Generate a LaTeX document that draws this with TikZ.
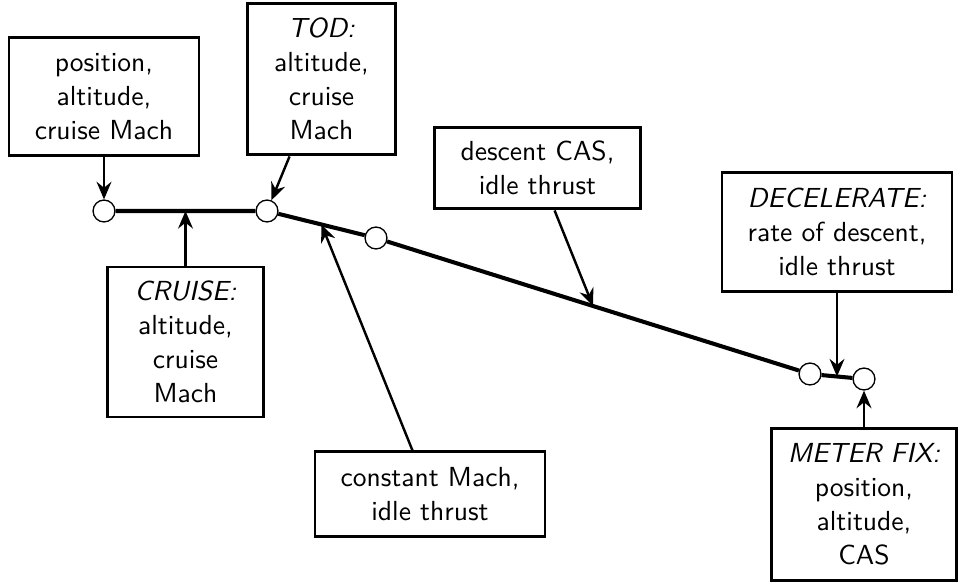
\documentclass[tikz,border=0pt]{standalone}
\usetikzlibrary{arrows.meta,calc}
\begin{document}
\begin{tikzpicture}[x=0.37pt,y=-0.37pt,
  font=\sffamily\fontsize{10.2}{12.6}\selectfont,
  box/.style={draw,line width=1.1pt,align=center,inner sep=0pt},
  fix/.style={draw,circle,line width=0.5pt,fill=white,minimum size=8.1pt,inner sep=0pt},
  profile/.style={line width=1.5pt},
  arr/.style={line width=0.9pt,-{Stealth[length=6.5pt,width=5.5pt,inset=2.2pt]}}]
  \useasboundingbox (0,0) rectangle (959,584);
  % fixes along the descent profile
  \node[fix] (c1) at (104,211) {};
  \node[fix] (c2) at (267,211) {};
  \node[fix] (c3) at (376,238) {};
  \node[fix] (c4) at (810,374) {};
  \node[fix] (c5) at (864,379) {};
  \draw[profile] (c1) -- (c2) -- (c3) -- (c4) -- (c5);
  \coordinate (m1) at ($(c1)!0.5!(c2)$);
  \coordinate (m2) at ($(c2)!0.5!(c3)$);
  \coordinate (m3) at ($(c3)!0.5!(c4)$);
  \coordinate (m4) at ($(c4)!0.5!(c5)$);
  % boxes
  \node[box,minimum width=70.3pt,minimum height=43.3pt] (start) at (104,96.5) {position,\\altitude,\\cruise Mach};
  \node[box,minimum width=55.1pt,minimum height=56.2pt] (tod) at (321.5,79) {\textit{TOD:}\\altitude,\\cruise\\Mach};
  \node[box,minimum width=57.4pt,minimum height=55.5pt] (cruise) at (185.5,342) {\textit{CRUISE:}\\altitude,\\cruise\\Mach};
  \node[box,minimum width=75.9pt,minimum height=30.3pt] (desc) at (537.5,168) {descent CAS,\\idle thrust};
  \node[box,minimum width=85.1pt,minimum height=31.1pt] (const) at (430,494) {constant Mach,\\idle thrust};
  \node[box,minimum width=85.1pt,minimum height=43.7pt] (decel) at (837,232) {\textit{DECELERATE:}\\rate of descent,\\idle thrust};
  \node[box,minimum width=68.1pt,minimum height=55.9pt] (meter) at (864,504.5) {\textit{METER FIX:}\\position,\\altitude,\\CAS};
  % arrows
  \draw[arr] (start) -- (c1);
  \draw[arr] (tod) -- (c2);
  \draw[arr] (cruise) -- (m1);
  \draw[arr] (const) -- (m2);
  \draw[arr] (desc) -- (m3);
  \draw[arr] (decel) -- (m4);
  \draw[arr] (meter) -- (c5);
\end{tikzpicture}
\end{document}
